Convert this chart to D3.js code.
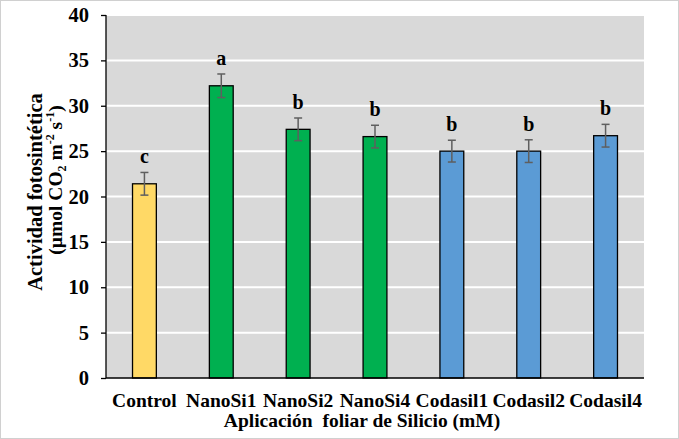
<!DOCTYPE html>
<html>
<head>
<meta charset="utf-8">
<style>
body { margin: 0; background: #fff; }
</style>
</head>
<body>
<div id="chart"></div>
<script src="https://d3js.org/d3.v7.min.js"></script>
<script>
// data
var categories = ["Control", "NanoSi1", "NanoSi2", "NanoSi4", "Codasil1", "Codasil2", "Codasil4"];
var values     = [21.4, 32.2, 27.4, 26.6, 25.0, 25.0, 26.7];
var errors     = [1.25, 1.3, 1.25, 1.25, 1.2, 1.25, 1.25];
var letters    = ["c", "a", "b", "b", "b", "b", "b"];
var barColors  = ["#ffd966", "#00b050", "#00b050", "#00b050", "#5b9bd5", "#5b9bd5", "#5b9bd5"];
var yTicks     = [0, 5, 10, 15, 20, 25, 30, 35, 40];

var FONT = "'Liberation Serif'";

var W = 679, H = 439;
var margin = {top: 15, right: 35, bottom: 61, left: 106},
    width = W - margin.left - margin.right,
    height = H - margin.top - margin.bottom;

var root = d3.select("#chart").append("svg")
    .attr("width", W).attr("height", H);

// outer frame
root.append("rect").attr("x", 0.5).attr("y", 0.5).attr("width", W - 1).attr("height", H - 1)
    .attr("fill", "#fff").attr("stroke", "#d0d0d0");

var svg = root.append("g")
    .attr("transform", "translate(" + margin.left + "," + margin.top + ")");

var x = d3.scaleBand().domain(categories).range([0, width]).paddingInner(0.69).paddingOuter(0.345);
var y = d3.scaleLinear().domain([0, 40]).range([height, 0]);

function serif(sel, size) {
  return sel.style("font-family", FONT).style("font-weight", "bold")
    .style("font-size", size + "px").attr("fill", "#000");
}

// plot background
svg.append("rect").attr("width", width).attr("height", height).attr("fill", "#d9d9d9");

// gridlines
svg.selectAll(".grid").data(yTicks.filter(function(d) { return d > 0; }))
  .enter().append("line")
    .attr("x1", 0).attr("x2", width)
    .attr("y1", function(d) { return y(d); }).attr("y2", function(d) { return y(d); })
    .attr("stroke", "#fff").attr("stroke-width", 2);

// bars
svg.selectAll(".bar").data(categories)
  .enter().append("rect")
    .attr("x", function(d) { return x(d); })
    .attr("y", function(d, i) { return y(values[i]); })
    .attr("width", x.bandwidth())
    .attr("height", function(d, i) { return height - y(values[i]); })
    .attr("fill", function(d, i) { return barColors[i]; })
    .attr("stroke", "#000").attr("stroke-width", 1.3);

// error bars
var eb = svg.append("g").attr("stroke", "#5f5f5f").attr("stroke-width", 1.5);
categories.forEach(function(c, i) {
  var cx = x(c) + x.bandwidth() / 2;
  eb.append("line").attr("x1", cx).attr("x2", cx)
    .attr("y1", y(values[i] - errors[i])).attr("y2", y(values[i] + errors[i]));
  eb.append("line").attr("x1", cx - 4).attr("x2", cx + 4)
    .attr("y1", y(values[i] - errors[i])).attr("y2", y(values[i] - errors[i]));
  eb.append("line").attr("x1", cx - 4).attr("x2", cx + 4)
    .attr("y1", y(values[i] + errors[i])).attr("y2", y(values[i] + errors[i]));
});

// significance letters
serif(svg.selectAll(".letter").data(categories)
  .enter().append("text")
    .attr("x", function(d) { return x(d) + x.bandwidth() / 2; })
    .attr("y", function(d, i) { return y(values[i] + errors[i]) - 9; })
    .attr("text-anchor", "middle")
    .text(function(d, i) { return letters[i]; }), 20);

// y axis
var yAxis = svg.append("g")
    .call(d3.axisLeft(y).tickValues(yTicks).tickSize(5).tickPadding(12));
yAxis.attr("font-family", null).attr("font-size", null);
yAxis.selectAll("path, line").attr("stroke", "#000").attr("stroke-width", 1.3);
yAxis.select("path").attr("d", "M0,0V" + height);
serif(yAxis.selectAll("text"), 20.5);

// x axis
var xAxis = svg.append("g").attr("transform", "translate(0," + height + ")")
    .call(d3.axisBottom(x).tickSize(0).tickPadding(15));
xAxis.attr("font-family", null).attr("font-size", null);
xAxis.select("path").attr("stroke", "#000").attr("stroke-width", 1.3).attr("d", "M0,0H" + width);
serif(xAxis.selectAll("text"), 19.5);

// axis titles
serif(svg.append("text")
    .attr("x", width / 2 - 13).attr("y", height + 49)
    .attr("text-anchor", "middle")
    .attr("xml:space", "preserve")
    .text("Aplicación  foliar de Silicio (mM)"), 19.5);

serif(root.append("text")
    .attr("transform", "translate(42,192) rotate(-90)")
    .attr("text-anchor", "middle")
    .text("Actividad fotosintética"), 20.5);

var yt = serif(root.append("text")
    .attr("transform", "translate(62,180) rotate(-90)")
    .attr("text-anchor", "middle"), 19.5);
yt.append("tspan").text("(µmol CO");
yt.append("tspan").attr("dy", 4).style("font-size", "12px").text("2");
yt.append("tspan").attr("dy", -4).text(" m");
yt.append("tspan").attr("dy", -8).style("font-size", "12px").text("-2");
yt.append("tspan").attr("dy", 8).text(" s");
yt.append("tspan").attr("dy", -8).style("font-size", "12px").text("-1");
yt.append("tspan").attr("dy", 8).text(")");
</script>
</body>
</html>
